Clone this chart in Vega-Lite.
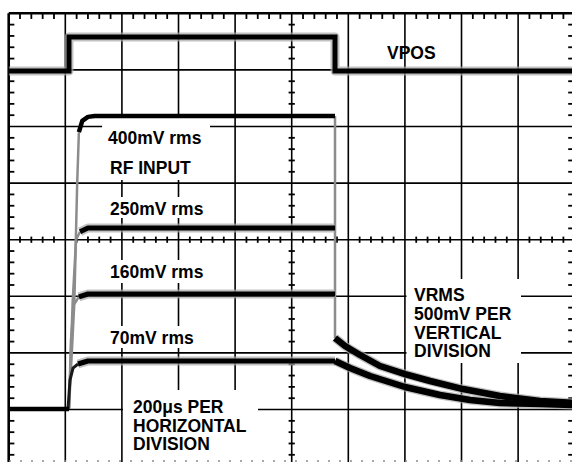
{
  "$schema": "https://vega.github.io/schema/vega-lite/v6.json",
  "width": 563.3,
  "height": 448.7,
  "autosize": {"type": "none"},
  "padding": {"left": 8.7, "top": 13.3, "right": 0, "bottom": 0},
  "background": "white",
  "config": {"view": {"stroke": null}, "axis": {"disable": true}, "legend": {"disable": true}},
  "datasets": {
    "grid_x": [{"v": 1}, {"v": 2}, {"v": 3}, {"v": 4}, {"v": 5}, {"v": 6}, {"v": 7}, {"v": 8}, {"v": 9}],
    "grid_y": [{"v": 1}, {"v": 2}, {"v": 3}, {"v": 4}, {"v": 5}, {"v": 6}, {"v": 7}],
    "edge_x": [{"v": 0}],
    "edge_y": [{"v": 8}],
    "bottom": [{"v": 0.09}],
    "tx": [{"v":0.2},{"v":0.4},{"v":0.6},{"v":0.8},{"v":1.2},{"v":1.4},{"v":1.6},{"v":1.8},{"v":2.2},{"v":2.4},{"v":2.6},{"v":2.8},{"v":3.2},{"v":3.4},{"v":3.6},{"v":3.8},{"v":4.2},{"v":4.4},{"v":4.6},{"v":4.8},{"v":5.2},{"v":5.4},{"v":5.6},{"v":5.8},{"v":6.2},{"v":6.4},{"v":6.6},{"v":6.8},{"v":7.2},{"v":7.4},{"v":7.6},{"v":7.8},{"v":8.2},{"v":8.4},{"v":8.6},{"v":8.8},{"v":9.2},{"v":9.4},{"v":9.6},{"v":9.8}],
    "ty": [{"v":0.2},{"v":0.4},{"v":0.6},{"v":0.8},{"v":1.2},{"v":1.4},{"v":1.6},{"v":1.8},{"v":2.2},{"v":2.4},{"v":2.6},{"v":2.8},{"v":3.2},{"v":3.4},{"v":3.6},{"v":3.8},{"v":4.2},{"v":4.4},{"v":4.6},{"v":4.8},{"v":5.2},{"v":5.4},{"v":5.6},{"v":5.8},{"v":6.2},{"v":6.4},{"v":6.6},{"v":6.8},{"v":7.2},{"v":7.4},{"v":7.6},{"v":7.8}],
    "boxes": [
      {"x": 1.650, "x2": 3.557, "y": 6.150, "y2": 5.055},
      {"x": 1.684, "x2": 3.645, "y": 4.754, "y2": 4.383},
      {"x": 1.684, "x2": 3.645, "y": 3.641, "y2": 3.235},
      {"x": 1.684, "x2": 3.504, "y": 2.475, "y2": 2.087},
      {"x": 2.019, "x2": 4.405, "y": 1.345, "y2": 0.0},
      {"x": 7.028, "x2": 9.051, "y": 3.306, "y2": 1.822}
    ],
    "traces": [
      {"s": "vpos", "k": "vpos", "x": 0, "y": 6.981},
      {"s": "vpos", "k": "vpos", "x": 1.065, "y": 6.981},
      {"s": "vpos", "k": "vpos", "x": 1.065, "y": 7.581},
      {"s": "vpos", "k": "vpos", "x": 5.765, "y": 7.581},
      {"s": "vpos", "k": "vpos", "x": 5.765, "y": 6.981},
      {"s": "vpos", "k": "vpos", "x": 10.0, "y": 6.981},
      {"s": "base", "k": "lvl", "x": 0, "y": 1.009},
      {"s": "base", "k": "lvl", "x": 1.065, "y": 1.009},
      {"s": "r400", "k": "edge", "x": 1.065, "y": 1.009},
      {"s": "r400", "k": "edge", "x": 1.16, "y": 2.9},
      {"s": "r400", "k": "edge", "x": 1.21, "y": 5.0},
      {"s": "r400", "k": "edge", "x": 1.24, "y": 5.9},
      {"s": "l400", "k": "lvl", "x": 1.24, "y": 5.9},
      {"s": "l400", "k": "lvl", "x": 1.30, "y": 6.10},
      {"s": "l400", "k": "lvl", "x": 1.40, "y": 6.17},
      {"s": "l400", "k": "lvl", "x": 1.52, "y": 6.186},
      {"s": "l400", "k": "lvl", "x": 5.765, "y": 6.186},
      {"s": "r250", "k": "edge", "x": 1.065, "y": 1.009},
      {"s": "r250", "k": "edge", "x": 1.13, "y": 2.9},
      {"s": "r250", "k": "edge", "x": 1.19, "y": 4.0},
      {"s": "r250", "k": "edge", "x": 1.26, "y": 4.14},
      {"s": "l250", "k": "noisy", "x": 1.26, "y": 4.14},
      {"s": "l250", "k": "noisy", "x": 1.40, "y": 4.207},
      {"s": "l250", "k": "noisy", "x": 5.765, "y": 4.207},
      {"s": "r160", "k": "edge", "x": 1.065, "y": 1.009},
      {"s": "r160", "k": "edge", "x": 1.10, "y": 2.23},
      {"s": "r160", "k": "edge", "x": 1.15, "y": 2.85},
      {"s": "r160", "k": "edge", "x": 1.24, "y": 2.99},
      {"s": "l160", "k": "noisy", "x": 1.24, "y": 2.99},
      {"s": "l160", "k": "noisy", "x": 1.40, "y": 3.041},
      {"s": "l160", "k": "noisy", "x": 5.765, "y": 3.041},
      {"s": "r70", "k": "edgek", "x": 1.048, "y": 1.009},
      {"s": "r70", "k": "edgek", "x": 1.083, "y": 1.52},
      {"s": "r70", "k": "edgek", "x": 1.136, "y": 1.733},
      {"s": "r70", "k": "edgek", "x": 1.224, "y": 1.804},
      {"s": "l70", "k": "noisy", "x": 1.224, "y": 1.804},
      {"s": "l70", "k": "noisy", "x": 1.40, "y": 1.857},
      {"s": "l70", "k": "noisy", "x": 5.765, "y": 1.857},
      {"s": "d70", "k": "decay", "x": 5.765, "y": 1.857},
      {"s": "d70", "k": "decay", "x": 6.03, "y": 1.733},
      {"s": "d70", "k": "decay", "x": 6.384, "y": 1.592},
      {"s": "d70", "k": "decay", "x": 7.002, "y": 1.398},
      {"s": "d70", "k": "decay", "x": 7.62, "y": 1.256},
      {"s": "d70", "k": "decay", "x": 8.15, "y": 1.168},
      {"s": "d70", "k": "decay", "x": 8.68, "y": 1.115},
      {"s": "d70", "k": "decay", "x": 9.387, "y": 1.097},
      {"s": "d70", "k": "decay", "x": 10.0, "y": 1.08},
      {"s": "fall", "k": "edge", "x": 5.765, "y": 6.186},
      {"s": "fall", "k": "edge", "x": 5.765, "y": 2.263},
      {"s": "dec", "k": "decay", "x": 5.765, "y": 2.263},
      {"s": "dec", "k": "decay", "x": 5.942, "y": 2.122},
      {"s": "dec", "k": "decay", "x": 6.207, "y": 1.963},
      {"s": "dec", "k": "decay", "x": 6.56, "y": 1.769},
      {"s": "dec", "k": "decay", "x": 7.002, "y": 1.627},
      {"s": "dec", "k": "decay", "x": 7.444, "y": 1.504},
      {"s": "dec", "k": "decay", "x": 8.027, "y": 1.362},
      {"s": "dec", "k": "decay", "x": 8.68, "y": 1.239},
      {"s": "dec", "k": "decay", "x": 9.387, "y": 1.15},
      {"s": "dec", "k": "decay", "x": 10.0, "y": 1.115}
    ],
    "labels": [
      {"t": "VPOS", "x": 6.684, "y": 7.193},
      {"t": "400mV rms", "x": 1.754, "y": 5.691},
      {"t": "RF INPUT", "x": 1.790, "y": 5.161},
      {"t": "250mV rms", "x": 1.790, "y": 4.436},
      {"t": "160mV rms", "x": 1.790, "y": 3.323},
      {"t": "70mV rms", "x": 1.790, "y": 2.157},
      {"t": "200μs PER", "x": 2.196, "y": 0.938},
      {"t": "HORIZONTAL", "x": 2.196, "y": 0.602},
      {"t": "DIVISION", "x": 2.196, "y": 0.284},
      {"t": "VRMS", "x": 7.161, "y": 2.917},
      {"t": "500mV PER", "x": 7.161, "y": 2.581},
      {"t": "VERTICAL", "x": 7.161, "y": 2.246},
      {"t": "DIVISION", "x": 7.161, "y": 1.928}
    ]
  },
  "layer": [
    {
      "data": {"name": "grid_x"},
      "mark": {"type": "rule", "color": "#000", "strokeWidth": 1.6},
      "encoding": {"x": {"field": "v", "type": "quantitative", "scale": {"domain": [0, 9.952], "nice": false, "zero": false}}}
    },
    {
      "data": {"name": "grid_y"},
      "mark": {"type": "rule", "color": "#000", "strokeWidth": 1.6},
      "encoding": {"y": {"field": "v", "type": "quantitative", "scale": {"domain": [0.073, 8], "nice": false, "zero": false}}}
    },
    {
      "data": {"name": "edge_x"},
      "mark": {"type": "rule", "color": "#000", "strokeWidth": 2.6},
      "encoding": {"x": {"field": "v", "type": "quantitative"}}
    },
    {
      "data": {"name": "edge_y"},
      "mark": {"type": "rule", "color": "#000", "strokeWidth": 2.6},
      "encoding": {"y": {"field": "v", "type": "quantitative"}}
    },
    {
      "data": {"name": "tx"},
      "mark": {"type": "rule", "color": "#000", "strokeWidth": 1.8},
      "encoding": {"x": {"field": "v", "type": "quantitative"}, "y": {"datum": 8}, "y2": {"datum": 7.9}}
    },
    {
      "data": {"name": "tx"},
      "mark": {"type": "rule", "color": "#000", "strokeWidth": 1.8},
      "encoding": {"x": {"field": "v", "type": "quantitative"}, "y": {"datum": 4.055}, "y2": {"datum": 3.945}}
    },
    {
      "data": {"name": "ty"},
      "mark": {"type": "rule", "color": "#000", "strokeWidth": 1.8},
      "encoding": {"y": {"field": "v", "type": "quantitative"}, "x": {"datum": 0}, "x2": {"datum": 0.1}}
    },
    {
      "data": {"name": "ty"},
      "mark": {"type": "rule", "color": "#000", "strokeWidth": 1.8},
      "encoding": {"y": {"field": "v", "type": "quantitative"}, "x": {"datum": 4.945}, "x2": {"datum": 5.055}}
    },
    {
      "data": {"name": "ty"},
      "mark": {"type": "rule", "color": "#000", "strokeWidth": 1.8},
      "encoding": {"y": {"field": "v", "type": "quantitative"}, "x": {"datum": 9.885}, "x2": {"datum": 10.05}}
    },
    {
      "data": {"name": "boxes"},
      "mark": {"type": "rect", "fill": "white", "stroke": null},
      "encoding": {
        "x": {"field": "x", "type": "quantitative"},
        "x2": {"field": "x2"},
        "y": {"field": "y", "type": "quantitative"},
        "y2": {"field": "y2"}
      }
    },
    {
      "data": {"name": "bottom"},
      "mark": {"type": "rule", "color": "#8c8c8c", "strokeWidth": 1.5, "strokeDash": [2, 9]},
      "encoding": {"y": {"field": "v", "type": "quantitative"}}
    },
    {
      "data": {"name": "traces"},
      "transform": [{"filter": "datum.k == 'edge'"}],
      "mark": {"type": "line", "color": "#8c8c8c", "strokeWidth": 2.5, "clip": true},
      "encoding": {"x": {"field": "x", "type": "quantitative"}, "y": {"field": "y", "type": "quantitative"}, "detail": {"field": "s"}, "order": {"value": null}}
    },
    {
      "data": {"name": "traces"},
      "transform": [{"filter": "datum.k == 'noisy' || datum.k == 'decay' || datum.k == 'vpos'"}],
      "mark": {"type": "line", "color": "#a8a8a8", "strokeWidth": 9, "clip": true, "strokeJoin": "round", "opacity": 0.7},
      "encoding": {"x": {"field": "x", "type": "quantitative"}, "y": {"field": "y", "type": "quantitative"}, "detail": {"field": "s"}, "order": {"value": null}}
    },
    {
      "data": {"name": "traces"},
      "transform": [{"filter": "datum.k == 'edgek'"}],
      "mark": {"type": "line", "color": "#1a1a1a", "strokeWidth": 3, "clip": true},
      "encoding": {"x": {"field": "x", "type": "quantitative"}, "y": {"field": "y", "type": "quantitative"}, "detail": {"field": "s"}, "order": {"value": null}}
    },
    {
      "data": {"name": "traces"},
      "transform": [{"filter": "datum.k == 'lvl'"}],
      "mark": {"type": "line", "color": "#000", "strokeWidth": 4.5, "clip": true, "strokeJoin": "round"},
      "encoding": {"x": {"field": "x", "type": "quantitative"}, "y": {"field": "y", "type": "quantitative"}, "detail": {"field": "s"}, "order": {"value": null}}
    },
    {
      "data": {"name": "traces"},
      "transform": [{"filter": "datum.k == 'noisy'"}],
      "mark": {"type": "line", "color": "#000", "strokeWidth": 5, "clip": true, "strokeJoin": "round"},
      "encoding": {"x": {"field": "x", "type": "quantitative"}, "y": {"field": "y", "type": "quantitative"}, "detail": {"field": "s"}, "order": {"value": null}}
    },
    {
      "data": {"name": "traces"},
      "transform": [{"filter": "datum.k == 'decay'"}],
      "mark": {"type": "line", "color": "#000", "strokeWidth": 6.5, "clip": true, "strokeJoin": "round"},
      "encoding": {"x": {"field": "x", "type": "quantitative"}, "y": {"field": "y", "type": "quantitative"}, "detail": {"field": "s"}, "order": {"value": null}}
    },
    {
      "data": {"name": "traces"},
      "transform": [{"filter": "datum.k == 'vpos'"}],
      "mark": {"type": "line", "color": "#000", "strokeWidth": 5, "clip": true, "strokeJoin": "miter"},
      "encoding": {"x": {"field": "x", "type": "quantitative"}, "y": {"field": "y", "type": "quantitative"}, "detail": {"field": "s"}, "order": {"value": null}}
    },
    {
      "data": {"name": "labels"},
      "mark": {"type": "text", "align": "left", "baseline": "alphabetic", "font": "Liberation Sans", "fontSize": 17.5, "fontWeight": "bold", "color": "#000"},
      "encoding": {"x": {"field": "x", "type": "quantitative"}, "y": {"field": "y", "type": "quantitative"}, "text": {"field": "t"}}
    }
  ]
}
